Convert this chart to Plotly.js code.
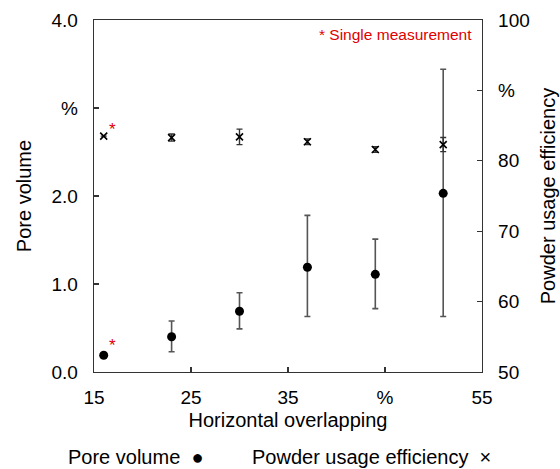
<!DOCTYPE html>
<html>
<head>
<meta charset="utf-8">
<script src="https://cdn.plot.ly/plotly-3.0.1.min.js"></script>
<style>html,body{margin:0;padding:0;background:#fff;}#chart{width:560px;height:469px;}</style>
</head>
<body>
<div id="chart"></div>
<script>
// Data
const overlap = [16, 23, 30, 37, 44, 51];
const poreVolume = [0.19, 0.40, 0.69, 1.19, 1.11, 2.03];
const porePlus = [0, 0.18, 0.21, 0.59, 0.40, 1.41];
const poreMinus = [0, 0.17, 0.20, 0.56, 0.39, 1.40];
const powderEff = [83.5, 83.3, 83.4, 82.7, 81.6, 82.3];
const powderErr = [0, 0.5, 1.1, 0.4, 0.4, 1.0];

const xTickVals = [15, 25, 35, 45, 55];
const xTickText = ['15', '25', '35', '%', '55'];
const yTickVals = [0, 1, 2, 3, 4];
const yTickText = ['0.0', '1.0', '2.0', '%', '4.0'];
const y2TickVals = [50, 60, 70, 80, 90, 100];
const y2TickText = ['50', '60', '70', '80', '%', '100'];

const FONT = 'Liberation Sans, Arial, sans-serif';
const AX = '#333';

const traces = [
  {
    x: overlap, y: poreVolume, type: 'scatter', mode: 'markers', name: 'Pore volume',
    marker: {symbol: 'circle', size: 9, color: '#000'},
    error_y: {type: 'data', array: porePlus, arrayminus: poreMinus, visible: true,
              color: '#555', thickness: 1.6, width: 3},
    yaxis: 'y', showlegend: false
  },
  {
    x: overlap, y: powderEff, type: 'scatter', mode: 'markers', name: 'Powder usage efficiency',
    marker: {symbol: 'x-thin-open', size: 7, color: '#000', line: {color: '#000', width: 1.6}},
    error_y: {type: 'data', array: powderErr, visible: true, color: '#333', thickness: 1.4, width: 3},
    yaxis: 'y2', showlegend: false
  }
];

const axisCommon = {
  showgrid: false, zeroline: false, showline: true, linecolor: AX, linewidth: 1.3,
  ticks: 'inside', ticklen: 5, tickwidth: 1.3, tickcolor: AX,
  tickfont: {family: FONT, size: 19, color: '#000'}, tickmode: 'array'
};
const titleFont = {family: FONT, size: 20, color: '#000'};

const layout = {
  width: 560, height: 469,
  margin: {l: 94, r: 78, t: 20, b: 97},
  paper_bgcolor: '#fff', plot_bgcolor: '#fff',
  font: {family: FONT, color: '#000'},
  xaxis: Object.assign({}, axisCommon, {
    range: [15, 55], tickvals: xTickVals, ticktext: xTickText, mirror: true,
    ticklabelstandoff: 8,
    title: {text: 'Horizontal overlapping', font: titleFont, standoff: 6}
  }),
  yaxis: Object.assign({}, axisCommon, {
    range: [0, 4], tickvals: yTickVals, ticktext: yTickText, mirror: false,
    ticklabelstandoff: 11,
    title: {text: 'Pore volume', font: titleFont, standoff: 14}
  }),
  yaxis2: Object.assign({}, axisCommon, {
    range: [50, 100], tickvals: y2TickVals, ticktext: y2TickText,
    overlaying: 'y', side: 'right', ticklabelstandoff: 11,
    title: {text: 'Powder usage efficiency', font: titleFont, standoff: 12}
  }),
  annotations: [
    {xref: 'paper', yref: 'paper', x: 1, y: 1, xanchor: 'right', yanchor: 'top', xshift: -8, yshift: -4,
     text: '* Single measurement', showarrow: false, font: {family: FONT, size: 15.5, color: '#e00000'}},
    {xref: 'x', yref: 'y', x: 16.9, y: 0.30, text: '*', showarrow: false,
     font: {family: FONT, size: 17, color: '#e00000'}},
    {xref: 'x', yref: 'y2', x: 16.9, y: 84.5, text: '*', showarrow: false,
     font: {family: FONT, size: 17, color: '#e00000'}},
    {xref: 'paper', yref: 'paper', x: 0, xshift: -28, y: 0, yshift: -85, xanchor: 'left', yanchor: 'middle',
     text: 'Pore volume  \u25CF', showarrow: false, font: {family: FONT, size: 20, color: '#000'}},
    {xref: 'paper', yref: 'paper', x: 0, xshift: 156, y: 0, yshift: -85, xanchor: 'left', yanchor: 'middle',
     text: 'Powder usage efficiency  \u00D7', showarrow: false, font: {family: FONT, size: 20, color: '#000'}}
  ]
};

Plotly.newPlot('chart', traces, layout, {displayModeBar: false, staticPlot: true});
</script>
</body>
</html>
